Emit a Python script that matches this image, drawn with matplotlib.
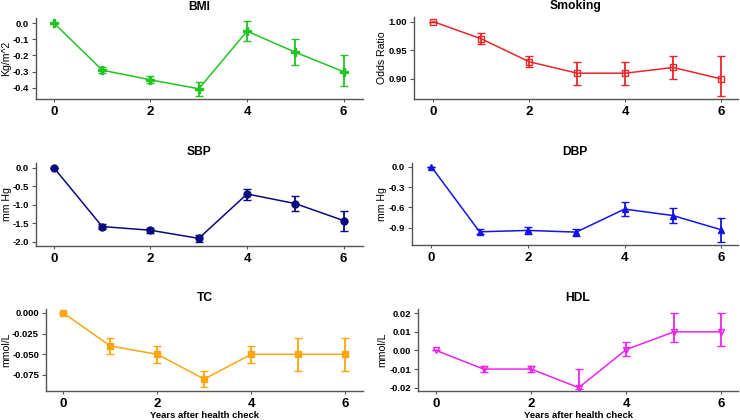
import numpy as np
import matplotlib.pyplot as plt

plt.rcParams["font.family"] = ["Liberation Sans", "DejaVu Sans"]

years = [0, 1, 2, 3, 4, 5, 6]

bmi = [0.0, -0.29, -0.35, -0.405, -0.05, -0.18, -0.30]
bmi_lo = [0.0, -0.306, -0.369, -0.447, -0.111, -0.258, -0.388]
bmi_hi = [0.0, -0.27, -0.328, -0.365, 0.01, -0.098, -0.199]

smk = [1.0, 0.97, 0.93, 0.91, 0.91, 0.92, 0.90]
smk_lo = [1.0, 0.961, 0.92, 0.89, 0.89, 0.90, 0.87]
smk_hi = [1.0, 0.98, 0.94, 0.93, 0.93, 0.94, 0.94]

sbp = [0.0, -1.59, -1.69, -1.91, -0.71, -0.97, -1.43]
sbp_lo = [0.0, -1.65, -1.77, -2.0, -0.86, -1.16, -1.71]
sbp_hi = [0.0, -1.52, -1.62, -1.82, -0.58, -0.76, -1.16]

dbp = [0.0, -0.96, -0.94, -0.965, -0.625, -0.72, -0.93]
dbp_lo = [0.0, -0.99, -0.99, -1.018, -0.723, -0.836, -1.107]
dbp_hi = [0.0, -0.925, -0.885, -0.915, -0.526, -0.605, -0.753]

tc = [0.0, -0.04, -0.05, -0.08, -0.05, -0.05, -0.05]
tc_lo = [0.0, -0.05, -0.06, -0.09, -0.06, -0.07, -0.07]
tc_hi = [0.0, -0.03, -0.04, -0.07, -0.04, -0.03, -0.03]

hdl = [0.0, -0.01, -0.01, -0.02, 0.0005, 0.01, 0.01]
hdl_lo = [0.0, -0.0115, -0.0115, -0.0205, -0.003, 0.0044, 0.0022]
hdl_hi = [0.0, -0.0085, -0.0085, -0.01, 0.0043, 0.02, 0.02]

W, H = 740, 420

# name, ylabel, values, lo, hi, color, marker, filled, yticks, ticklabels, ylim,
# px box (l, r, top, bottom), xlim, ylabel x centre (px)
panels = [
    ("BMI", "Kg/m^2", bmi, bmi_lo, bmi_hi, "#22c422", "P", True,
     [0.0, -0.1, -0.2, -0.3, -0.4], ["0.0", "-0.1", "-0.2", "-0.3", "-0.4"],
     (-0.468, 0.031), (36, 363, 18, 99), (-0.37, 6.4), 6.5),
    ("Smoking", "Odds Ratio", smk, smk_lo, smk_hi, "#e8262a", "s", False,
     [1.0, 0.95, 0.90], ["1.00", "0.95", "0.90"],
     (0.865, 1.008), (414, 738, 17, 99), (-0.4, 6.35), 382),
    ("SBP", "mm Hg", sbp, sbp_lo, sbp_hi, "#0a0a80", "o", True,
     [0.0, -0.5, -1.0, -1.5, -2.0], ["0.0", "-0.5", "-1.0", "-1.5", "-2.0"],
     (-2.116, 0.127), (36, 363, 163, 246), (-0.37, 6.4), 6.5),
    ("DBP", "mm Hg", dbp, dbp_lo, dbp_hi, "#1414e6", "^", True,
     [0.0, -0.3, -0.6, -0.9], ["0.0", "-0.3", "-0.6", "-0.9"],
     (-1.155, 0.055), (412, 738, 163, 245), (-0.4, 6.35), 382),
    ("TC", "mmol/L", tc, tc_lo, tc_hi, "#ffa510", "s", True,
     [0.0, -0.025, -0.05, -0.075], ["0.000", "-0.025", "-0.050", "-0.075"],
     (-0.0944, 0.0048), (46, 363, 309, 391), (-0.37, 6.38), 6.5),
    ("HDL", "mmol/L", hdl, hdl_lo, hdl_hi, "#ee22ee", "v", False,
     [0.02, 0.01, 0.0, -0.01, -0.02], ["0.02", "0.01", "0.00", "-0.01", "-0.02"],
     (-0.0218, 0.0223), (418, 738, 309, 391), (-0.38, 6.35), 382),
]

fig = plt.figure(figsize=(W / 100, H / 100), dpi=100)

for i, (name, ylab, vals, lo, hi, col, mk, filled, yt, ytl, ylim, box, xlim, labx) in enumerate(panels):
    l, r, t, b = box
    ax = fig.add_axes([l / W, 1 - b / H, (r - l) / W, (b - t) / H])
    v = np.array(vals)
    err = [v - np.array(lo), np.array(hi) - v]
    ax.errorbar(years, v, yerr=err, color=col, lw=1.1, elinewidth=1.3, capsize=3,
                capthick=1.2, marker=mk, ms=5 if mk != "P" else 5.5,
                mfc=col if filled else "none", mec=col, mew=1.0)
    ax.set_xlim(*xlim)
    ax.set_ylim(*ylim)
    ax.set_xticks([0, 2, 4, 6])
    ax.set_yticks(yt)
    ax.set_yticklabels(ytl)
    for s in ["top", "right"]:
        ax.spines[s].set_visible(False)
    for s in ["left", "bottom"]:
        ax.spines[s].set_color("#555555")
        ax.spines[s].set_linewidth(1.0)
    ax.tick_params(axis="y", labelsize=6.8, length=3, width=0.8, color="#555555", pad=2)
    ax.tick_params(axis="x", labelsize=9.5, length=2, width=0.8, color="#555555", pad=3)
    for lbl in ax.get_xticklabels() + ax.get_yticklabels():
        lbl.set_fontweight("bold")
    ax.set_ylabel(ylab, fontsize=7.6, va="center")
    ax.yaxis.set_label_coords((labx - l) / (r - l), 0.5)
    ax.set_title(name, fontsize=8.7, fontweight="bold", pad=6)
    if i >= 4:
        ax.set_xlabel("Years after health check", fontsize=6.8, fontweight="bold", labelpad=0.5)

fig.savefig("out.png", dpi=100)
